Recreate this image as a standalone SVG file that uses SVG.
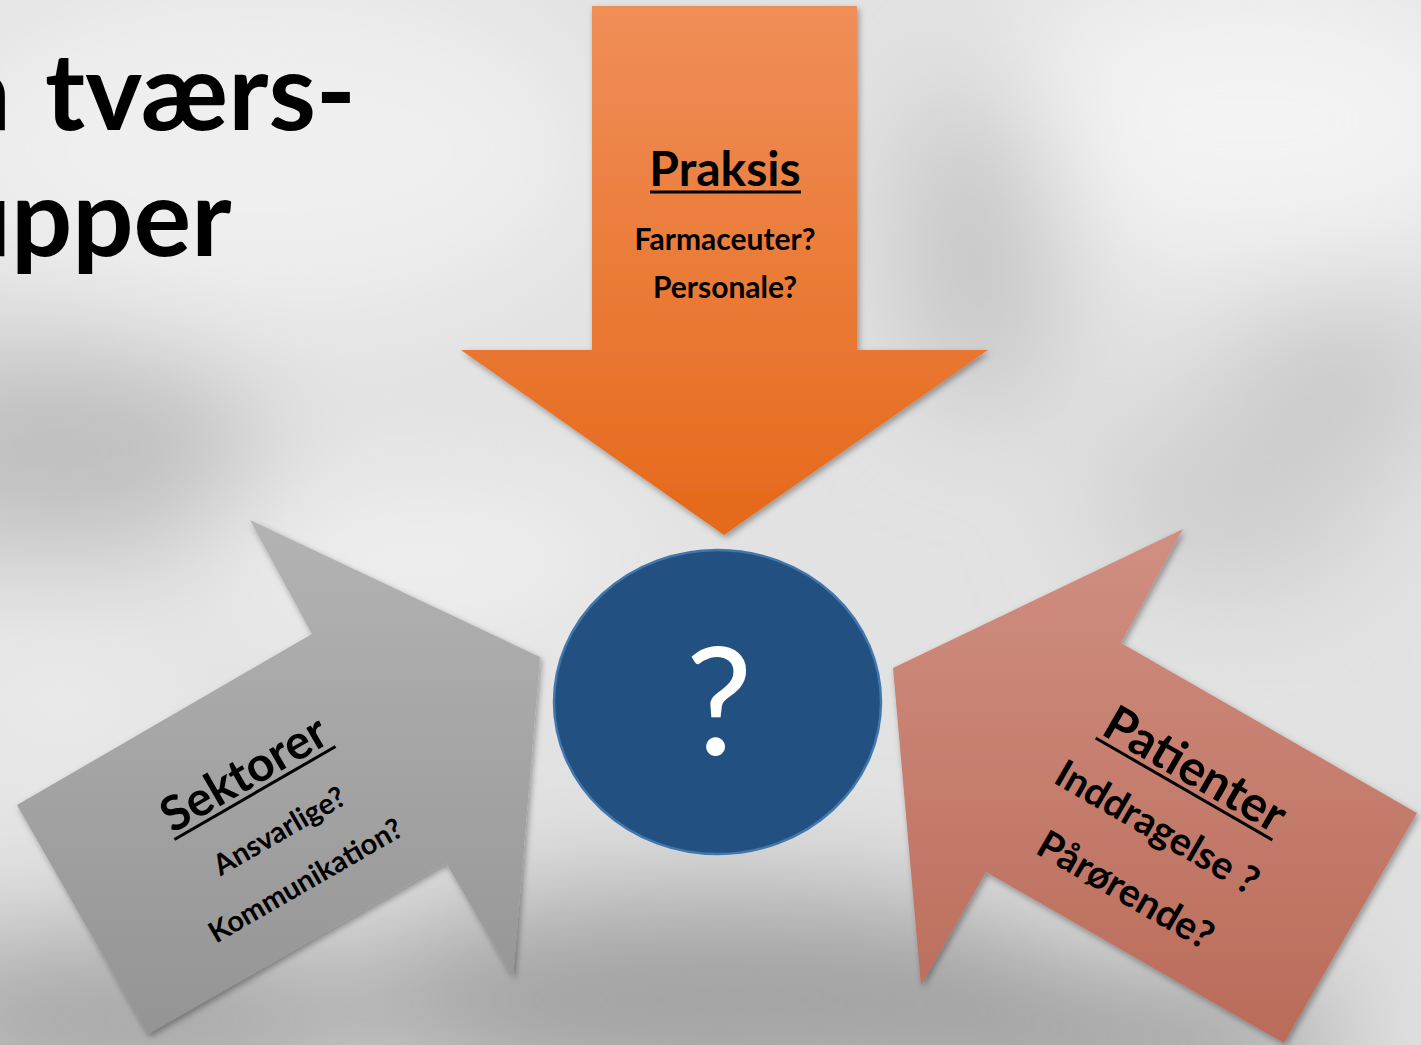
<svg xmlns="http://www.w3.org/2000/svg" width="1421" height="1045" viewBox="0 0 1421 1045">
  <defs>
    <style>
      .t { font-family: Lato, "Liberation Sans", sans-serif; font-weight: bold; fill: #000; }
      .title { font-size: 108px; }
      .head { font-size: 48px; }
      .sub { font-size: 29px; }
      .ul { stroke: #000; stroke-width: 3; }
    </style>
    <linearGradient id="gOrange" gradientUnits="userSpaceOnUse" x1="0" y1="6" x2="0" y2="535">
      <stop offset="0" stop-color="#f08e58"/>
      <stop offset="1" stop-color="#e5691a"/>
    </linearGradient>
    <linearGradient id="gGray" gradientUnits="userSpaceOnUse" x1="0" y1="520" x2="0" y2="1034">
      <stop offset="0" stop-color="#b3b3b3"/>
      <stop offset="1" stop-color="#949494"/>
    </linearGradient>
    <linearGradient id="gPink" gradientUnits="userSpaceOnUse" x1="0" y1="529" x2="0" y2="1043">
      <stop offset="0" stop-color="#d08f81"/>
      <stop offset="1" stop-color="#ba6b59"/>
    </linearGradient>
    <filter id="shadow" x="-10%" y="-10%" width="120%" height="120%">
      <feDropShadow dx="2" dy="3" stdDeviation="3" flood-color="#000" flood-opacity="0.35"/>
    </filter>
    <filter id="blur60" x="-50%" y="-50%" width="200%" height="200%">
      <feGaussianBlur stdDeviation="60"/>
    </filter>
  </defs>

  <!-- background -->
  <g id="background">
    <rect x="0" y="0" width="1421" height="1045" fill="#e2e2e2"/>
    <g filter="url(#blur60)">
      <ellipse cx="260" cy="150" rx="330" ry="170" fill="#efefef"/>
      <ellipse cx="1250" cy="120" rx="260" ry="150" fill="#f3f3f3"/>
      <ellipse cx="60" cy="450" rx="200" ry="100" fill="#bdbdbd"/>
      <ellipse cx="420" cy="560" rx="220" ry="70" fill="#f0f0f0"/>
      <ellipse cx="980" cy="250" rx="70" ry="170" fill="#c2c2c2"/>
      <ellipse cx="1340" cy="380" rx="110" ry="80" fill="#c8c8c8"/>
      <ellipse cx="1230" cy="500" rx="140" ry="90" fill="#cdcdcd"/>
      <ellipse cx="60" cy="700" rx="120" ry="80" fill="#ebebeb"/>
      <ellipse cx="720" cy="1000" rx="380" ry="110" fill="#a2a2a2"/>
      <ellipse cx="130" cy="1020" rx="260" ry="90" fill="#a6a6a6"/>
      <ellipse cx="1100" cy="1040" rx="260" ry="70" fill="#9e9e9e"/>
      <ellipse cx="1380" cy="900" rx="80" ry="120" fill="#dedede"/>
    </g>
  </g>

  <!-- title -->
  <g id="title">
    <text class="t title" x="-44" y="130">å<tspan x="45">tværs-</tspan></text>
    <text class="t title" x="-50" y="256">upper</text>
  </g>

  <!-- connectors (arrows) -->
  <g id="connectors" filter="url(#shadow)">
    <polygon id="arrow-praksis" points="592,6 857,6 857,350 988,350 724,535 461,350 592,350" fill="url(#gOrange)"/>
    <polygon id="arrow-sektorer" points="17,805 312,634 250,520 540,657 513,977 446,863 148,1034" fill="url(#gGray)"/>
    <polygon id="arrow-patienter" points="893,668 1183,529 1121,643 1417,813 1284,1043 986,872 921,985" fill="url(#gPink)"/>
  </g>

  <!-- Praksis label -->
  <g id="node-praksis">
    <text class="t head" x="725" y="186" text-anchor="middle">Praksis</text>
    <line class="ul" x1="650" y1="192" x2="801" y2="192"/>
    <text class="t sub" x="725" y="250" text-anchor="middle" style="font-size:30px">Farmaceuter?</text>
    <text class="t sub" x="725" y="298" text-anchor="middle" style="font-size:30px">Personale?</text>
  </g>

  <!-- Sektorer label -->
  <g id="node-sektorer" transform="translate(255,793) rotate(-30)">
    <text class="t head" x="0" y="-6" text-anchor="middle">Sektorer</text>
    <line class="ul" x1="-93" y1="0" x2="93" y2="0"/>
    <text class="t sub" x="2" y="55" text-anchor="middle">Ansvarlige?</text>
    <text class="t sub" x="0" y="111" text-anchor="middle">Kommunikation?</text>
  </g>

  <!-- Patienter label -->
  <g id="node-patienter" transform="translate(1184,789) rotate(30)">
    <text class="t head" x="0" y="-6" text-anchor="middle" style="font-size:49px">Patienter</text>
    <line class="ul" x1="-102" y1="0" x2="102" y2="0"/>
    <text class="t" x="-4" y="60" text-anchor="middle" style="font-size:39px">Inddragelse ?</text>
    <text class="t" x="0" y="130" text-anchor="middle" style="font-size:39px">Pårørende?</text>
  </g>

  <!-- center node -->
  <g id="node-center">
    <ellipse cx="717.5" cy="702" rx="163.5" ry="152" fill="#215081" stroke="#4277ad" stroke-width="2.5"/>
    <text x="719" y="755" text-anchor="middle" style="font-family: Lato, 'Liberation Sans', sans-serif; font-size:150px; fill:#ffffff">?</text>
  </g>
</svg>
